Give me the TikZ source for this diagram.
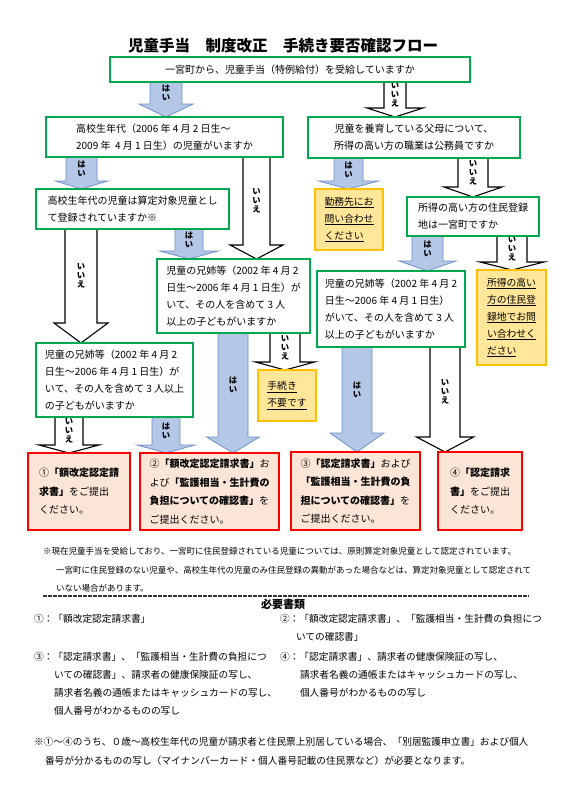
\documentclass[tikz,border=0pt]{standalone}
\usepackage{fontspec}
\setmainfont{Noto Sans CJK JP}
\usetikzlibrary{calc}
\pgfdeclarelayer{back}
\pgfsetlayers{back,main}
\definecolor{gbox}{RGB}{0,168,80}
\definecolor{yfill}{RGB}{255,230,153}
\definecolor{ybord}{RGB}{255,192,0}
\definecolor{rfill}{RGB}{251,229,214}
\definecolor{rbord}{RGB}{255,0,0}
\definecolor{bfill}{RGB}{180,199,231}
\definecolor{bbord}{RGB}{110,145,200}
\newcommand\blockarrow[9]{%
  \draw[#1] let \p1=#2, \p2=#3 in
    ({#4pt-#5pt},\y1) -- ({#4pt-#5pt},{\y2+#7pt}) -- ({#4pt-#6pt},{\y2+#7pt}) -- (#4pt,\y2)
    -- ({#4pt+#6pt},{\y2+#7pt}) -- ({#4pt+#5pt},{\y2+#7pt}) -- ({#4pt+#5pt},\y1) -- cycle
    (#4pt,{0.5*\y1+0.5*\y2+0.5*#7pt}) node[lbl] (#9) {#8};}
\begin{document}
\begin{tikzpicture}[x=1pt,y=-1pt,
  every node/.style={inner sep=0pt, outer sep=0pt},
  qbox/.style={draw=gbox, line width=1.8pt, fill=white, align=left, anchor=north west, font=\fontsize{10}{17}\selectfont},
  ybox/.style={draw=ybord, fill=yfill, line width=1.8pt, align=left, anchor=north west, font=\fontsize{9.8}{17}\selectfont},
  rbox/.style={draw=rbord, fill=rfill, line width=2.6pt, align=left, anchor=north west, font=\fontsize{10}{18.5}\selectfont},
  barr/.style={draw=bbord, fill=bfill, line width=0.8pt, line join=miter},
  warr/.style={draw=black, fill=white, line width=1.1pt, line join=miter},
  lbl/.style={align=center, font=\fontsize{8.3}{9}\selectfont\bfseries},
  note/.style={anchor=west, font=\fontsize{8.5}{10}\selectfont},
  doc/.style={anchor=west, font=\fontsize{9.7}{11}\selectfont},
  sepline/.style={draw=black!80, line width=1.2pt, dash pattern=on 3.5pt off 1.5pt},
]
\begin{pgfonlayer}{back}
\fill[white] (0,0) rectangle (566,800);
\end{pgfonlayer}
\useasboundingbox (0,0) rectangle (566,800);

\node[font=\fontsize{15.5}{18}\selectfont\bfseries] (title) at (283,46) {児童手当　制度改正　手続き要否確認フロー};

\node[qbox, align=center, minimum width=360pt, minimum height=25pt] (b1) at (110,57) {一宮町から、児童手当（特例給付）を受給していますか};
\node[qbox, minimum width=237pt, minimum height=40pt] (b2) at (46,117) {高校生年代（2006 年 4 月 2 日生～\\2009 年~~4 月 1 日生）の児童がいますか};
\node[qbox, align=center, minimum width=212pt, minimum height=41pt] (b3) at (308,117) {児童を養育している父母について、\\所得の高い方の職業は公務員ですか};
\node[qbox, minimum width=193pt, minimum height=40pt] (b4) at (36,189) {高校生年代の児童は算定対象児童とし\\て登録されていますか※};
\node[ybox, minimum width=68pt, minimum height=61pt] (y1) at (315,189) {\underline{勤務先にお}\\\underline{問い合わせ}\\\underline{ください}};
\node[qbox, minimum width=132pt, minimum height=39pt] (b5) at (407,197) {所得の高い方の住民登録\\地は一宮町ですか};
\node[qbox, minimum width=153pt, minimum height=74pt] (b6) at (157,259) {児童の兄姉等（2002 年 4 月 2\\日生～2006 年 4 月 1 日生）が\\いて、その人を含めて 3 人\\以上の子どもがいますか};
\node[ybox, minimum width=69pt, minimum height=95pt] (y2) at (477,270) {\underline{所得の高い}\\\underline{方の住民登}\\\underline{録地でお問}\\\underline{い合わせく}\\\underline{ださい}};
\node[qbox, minimum width=148pt, minimum height=76pt] (b7) at (317,271) {児童の兄姉等（2002 年 4 月 2\\日生～2006 年 4 月 1 日生）\\がいて、その人を含めて 3 人\\以上の子どもがいますか};
\node[qbox, minimum width=157pt, minimum height=74pt] (b8) at (36,343) {児童の兄姉等（2002 年 4 月 2\\日生～2006 年 4 月 1 日生）が\\いて、その人を含めて 3 人以上\\の子どもがいますか};
\node[ybox, minimum width=58pt, minimum height=51pt] (y3) at (258,370) {\underline{手続き}\\\underline{不要です}};

\node[rbox, minimum width=102pt, minimum height=77pt] (r1) at (28,453) {①\textbf{「額改定認定請}\\\textbf{求書」}をご提出\\ください。};
\node[rbox, minimum width=139pt, minimum height=77pt] (r2) at (140,453) {②\textbf{「額改定認定請求書」}お\\よび\textbf{「監護相当・生計費の}\\\textbf{負担についての確認書」}を\\ご提出ください。};
\node[rbox, minimum width=129pt, minimum height=78pt] (r3) at (291,452) {③\textbf{「認定請求書」}および\\\textbf{「監護相当・生計費の負}\\\textbf{担についての確認書」}を\\ご提出ください。};
\node[rbox, minimum width=84pt, minimum height=78pt] (r4) at (438,452) {④\textbf{「認定請求}\\\textbf{書」}をご提出\\ください。};

\begin{pgfonlayer}{back}
\blockarrow{barr}{(b1.south)}{(b2.north)}{166}{16}{27}{13}{は\\い}{l1}
\blockarrow{warr}{(b1.south)}{(b3.north)}{395}{11}{28}{9}{い\\い\\え}{l2}
\blockarrow{barr}{(b2.south)}{(b4.north)}{81.5}{15.5}{26}{8}{は\\い}{l3}
\blockarrow{warr}{(b2.south)}{(b6.north)}{256.5}{13.5}{26.5}{14}{い\\い\\え}{l4}
\blockarrow{barr}{(b3.south)}{(y1.north)}{348.5}{14.5}{30}{8}{は\\い}{l5}
\blockarrow{warr}{(b3.south)}{(b5.north)}{473}{15}{29}{10}{い\\い\\え}{l6}
\blockarrow{barr}{(b5.south)}{(b7.north)}{427.5}{15.5}{28.5}{10}{は\\い}{l7}
\blockarrow{warr}{(b5.south)}{(y2.north)}{512}{15}{32}{8}{い\\い\\え}{l8}
\blockarrow{barr}{(b4.south)}{(b6.north)}{189}{14}{29}{8}{は\\い}{l9}
\blockarrow{warr}{(b6.south)}{(y3.north)}{285}{15}{29.5}{8}{い\\い\\え}{l10}
\blockarrow{barr}{(b6.south)}{(r2.north)}{233}{15}{26.5}{16}{は\\い}{l11}
\blockarrow{warr}{(b4.south)}{(b8.north)}{81}{16}{27}{20}{い\\い\\え}{l12}
\blockarrow{warr}{(b8.south)}{(r1.north)}{69}{14}{30}{8}{い\\い\\え}{l13}
\blockarrow{barr}{(b8.south)}{(r2.north)}{166}{14}{29}{8}{は\\い}{l14}
\blockarrow{barr}{(b7.south)}{(r3.north)}{357}{15}{27}{19}{は\\い}{l15}
\blockarrow{warr}{(b7.south)}{(r4.north)}{445}{15}{28.5}{15}{い\\い\\え}{l16}
\end{pgfonlayer}

\node[note] (n1) at (43,551) {※現在児童手当を受給しており、一宮町に住民登録されている児童については、原則算定対象児童として認定されています。};
\node[note] (n2) at (56,570) {一宮町に住民登録のない児童や、高校生年代の児童のみ住民登録の異動があった場合などは、算定対象児童として認定されて};
\node[note] (n3) at (56,588) {いない場合があります。};
\coordinate (d1) at (43,596);
\coordinate (d2) at (529,596);
\draw[sepline] (d1) -- (d2);
\node[font=\fontsize{11}{12}\selectfont\bfseries] (hdr) at (283,604) {必要書類};

\node[doc] (c1) at (34,619) {①：「額改定認定請求書」};
\node[doc] (c2a) at (280,619) {②：「額改定認定請求書」、「監護相当・生計費の負担につ};
\node[doc] (c2b) at (296,637) {いての確認書」};
\node[doc] (c3a) at (34,657) {③：「認定請求書」、「監護相当・生計費の負担につ};
\node[doc] (c3b) at (54,675) {いての確認書」、請求者の健康保険証の写し、};
\node[doc] (c3c) at (54,693) {請求者名義の通帳またはキャッシュカードの写し、};
\node[doc] (c3d) at (54,711) {個人番号がわかるものの写し};
\node[doc] (c4a) at (280,657) {④：「認定請求書」、請求者の健康保険証の写し、};
\node[doc] (c4b) at (300,675) {請求者名義の通帳またはキャッシュカードの写し、};
\node[doc] (c4c) at (300,693) {個人番号がわかるものの写し};

\node[doc] (f1) at (34,742) {※①～④のうち、０歳～高校生年代の児童が請求者と住民票上別居している場合、「別居監護申立書」および個人};
\node[doc] (f2) at (45,761) {番号が分かるものの写し（マイナンバーカード・個人番号記載の住民票など）が必要となります。};
\end{tikzpicture}
\end{document}
